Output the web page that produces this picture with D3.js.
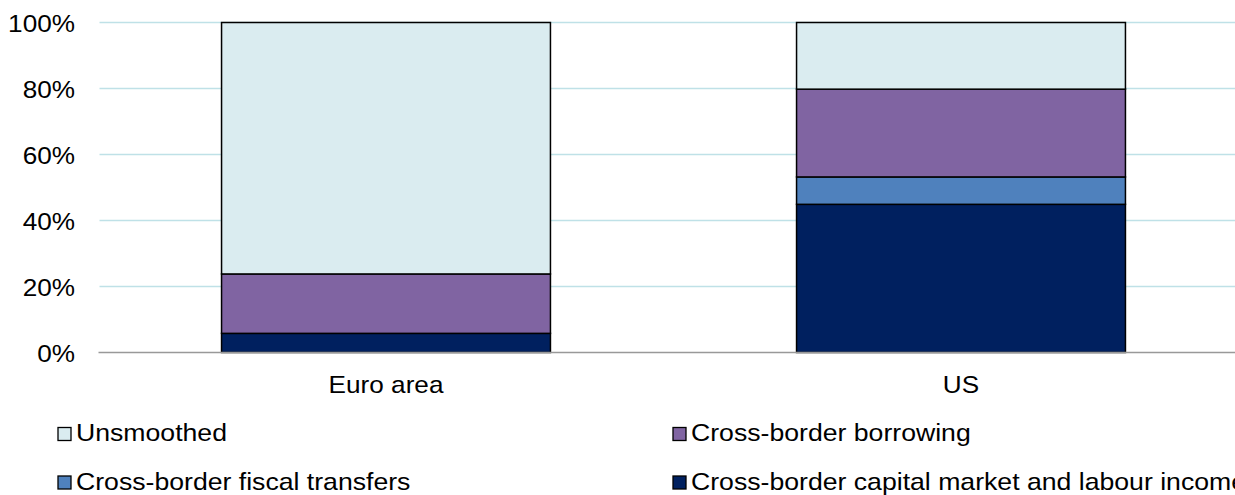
<!DOCTYPE html>
<html><head><meta charset="utf-8">
<script src="https://cdn.jsdelivr.net/npm/d3@7"></script>
<style>body{margin:0;background:#fff;overflow:hidden}svg{display:block;font-family:"Liberation Sans",Arial,sans-serif}</style>
</head><body>
<svg id="c" width="1235" height="495"></svg>
<script>
const categories = ["Euro area", "US"];
const seriesNames = ["Cross-border capital market and labour income", "Cross-border fiscal transfers", "Cross-border borrowing", "Unsmoothed"];
const capitalLabour = [5.8, 44.9];
const fiscalTransfers = [0, 8.3];
const borrowing = [18.0, 26.6];
const unsmoothed = [76.2, 20.2];
const yTicks = [0, 20, 40, 60, 80, 100];
const legendOrder = ["Unsmoothed", "Cross-border borrowing", "Cross-border fiscal transfers", "Cross-border capital market and labour income"];
const colors = {"Unsmoothed":"#DAECF0","Cross-border borrowing":"#8064A2","Cross-border fiscal transfers":"#4F81BD","Cross-border capital market and labour income":"#00205F"};

const seriesVals = [capitalLabour, fiscalTransfers, borrowing, unsmoothed];
const rows = categories.map((c,i)=>{const r={cat:c}; seriesNames.forEach((s,j)=>r[s]=seriesVals[j][i]); return r;});
const stack = d3.stack().keys(seriesNames)(rows);

const svg = d3.select("#c");
const pLeft = 98.5, pRight = 1248.5, pTop = 22.5, pBottom = 352.5;
const x = d3.scaleBand().domain(categories).range([pLeft, pRight]).paddingInner(0.428).paddingOuter(0.214);
const y = d3.scaleLinear().domain([0,100]).range([pBottom, pTop]);
const FS = 24, SX = 1.09;

// gridlines
svg.append("g").selectAll("line").data(yTicks.filter(t=>t>0)).join("line")
  .attr("x1", pLeft+1).attr("x2", 1235).attr("y1", d=>y(d)).attr("y2", d=>y(d))
  .attr("stroke", "#BFE1E7").attr("stroke-width", 1.5);

// y labels
svg.append("g").selectAll("text").data(yTicks).join("text")
  .attr("transform", d=>`translate(75,${y(d)+9}) scale(${SX},1)`)
  .attr("text-anchor","end")
  .attr("font-size", FS).attr("fill","#000").text(d=>d+"%");

// bars
svg.append("g").selectAll("g").data(stack).join("g")
  .attr("fill", d=>colors[d.key])
  .selectAll("rect").data(d=>d.filter(p=>p[1]-p[0]>0)).join("rect")
  .attr("x", d=>x(d.data.cat)).attr("width", x.bandwidth())
  .attr("y", d=>y(d[1])).attr("height", d=>y(d[0])-y(d[1]))
  .attr("stroke","#000").attr("stroke-width",1.5);

// baseline
svg.append("line").attr("x1", pLeft).attr("x2", 1235).attr("y1", pBottom).attr("y2", pBottom)
  .attr("stroke","#999").attr("stroke-width",1.5);

// x labels
svg.append("g").selectAll("text").data(categories).join("text")
  .attr("transform", d=>`translate(${x(d)+x.bandwidth()/2},393) scale(${SX},1)`)
  .attr("text-anchor","middle")
  .attr("font-size", FS).attr("fill","#000").text(d=>d);

// legend
const lg = svg.append("g").selectAll("g").data(legendOrder).join("g")
  .attr("transform",(d,i)=>`translate(${i%2===0?58:673},${i<2?441:489.5})`);
lg.append("rect").attr("x",0).attr("y",-13.5).attr("width",13).attr("height",13)
  .attr("fill",d=>colors[d]).attr("stroke","#000").attr("stroke-width",1.3);
lg.append("text").attr("transform",`translate(18,0) scale(1.11,1)`)
  .attr("font-size",FS).attr("fill","#000").text(d=>d);
</script>
</body></html>
